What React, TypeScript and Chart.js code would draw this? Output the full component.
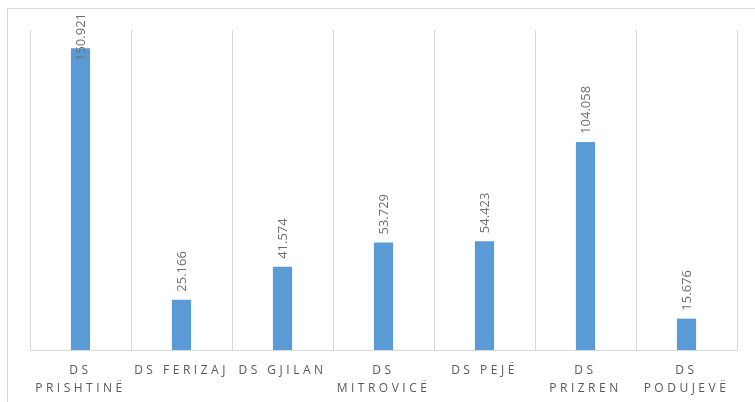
import React, { useEffect, useRef } from "react";
import { Chart, registerables } from "chart.js";

Chart.register(...registerables);

const categories: string[][] = [
  ["DS", "PRISHTINË"],
  ["DS FERIZAJ"],
  ["DS GJILAN"],
  ["DS", "MITROVICË"],
  ["DS PEJË"],
  ["DS", "PRIZREN"],
  ["DS", "PODUJEVË"],
];
const values: number[] = [150.921, 25.166, 41.574, 53.729, 54.423, 104.058, 15.676];
const valueLabels: string[] = ["150.921", "25.166", "41.574", "53.729", "54.423", "104.058", "15.676"];
const yMax = 160;

const CANVAS_W = 752;
const CANVAS_H = 400;

const letterSpacingPlugin = {
  id: "letterSpacing",
  beforeDraw(chart: any) {
    (chart.ctx as any).letterSpacing = "3.5px";
  },
  beforeDatasetsDraw(chart: any) {
    (chart.ctx as any).letterSpacing = "0px";
  },
  afterDraw(chart: any) {
    (chart.ctx as any).letterSpacing = "0px";
  },
};

const valueLabelPlugin = {
  id: "valueLabels",
  afterDatasetsDraw(chart: any) {
    const ctx = chart.ctx;
    const meta = chart.getDatasetMeta(0);
    ctx.save();
    (ctx as any).letterSpacing = "0px";
    ctx.font = '13px "Open Sans"';
    ctx.fillStyle = "#6f6f6f";
    ctx.textAlign = "left";
    ctx.textBaseline = "middle";
    meta.data.forEach((bar: any, i: number) => {
      const text = valueLabels[i];
      const w = ctx.measureText(text).width;
      let start = bar.y - 8;
      const minTop = 4;
      if (start - w < minTop) start = minTop + w;
      ctx.save();
      ctx.translate(bar.x + 1, start);
      ctx.rotate(-Math.PI / 2);
      ctx.fillText(text, 0, 0);
      ctx.restore();
    });
    ctx.restore();
  },
};

export default function App() {
  const ref = useRef<HTMLCanvasElement | null>(null);
  useEffect(() => {
    if (!ref.current) return;
    const chart = new Chart(ref.current, {
      type: "bar",
      data: {
        labels: categories,
        datasets: [
          {
            data: values,
            backgroundColor: "#5B9BD5",
            borderWidth: 0,
            categoryPercentage: 0.19,
            barPercentage: 1,
          },
        ],
      },
      options: {
        animation: false,
        responsive: false,
        maintainAspectRatio: false,
        layout: { padding: { left: 22, right: CANVAS_W - 729, top: 21, bottom: 0 } },
        plugins: { legend: { display: false }, tooltip: { enabled: false } },
        scales: {
          x: {
            grid: { color: "#d9d9d9", lineWidth: 1, drawTicks: false, offset: true },
            border: { color: "#d9d9d9" },
            ticks: {
              color: "#595959",
              font: { family: '"Open Sans"', size: 12, lineHeight: 1.5 },
              padding: 12,
              autoSkip: false,
              maxRotation: 0,
              minRotation: 0,
            },
            afterFit: (scale: any) => {
              scale.height = CANVAS_H - 341;
            },
          },
          y: {
            display: false,
            min: 0,
            max: yMax,
          },
        },
      },
      plugins: [letterSpacingPlugin, valueLabelPlugin],
    });
    return () => chart.destroy();
  }, []);
  return (
    <div
      style={{
        position: "fixed",
        left: 7,
        top: 8,
        width: CANVAS_W,
        height: CANVAS_H,
        border: "1px solid #d9d9d9",
        background: "#fff",
      }}
    >
      <canvas ref={ref} width={CANVAS_W} height={CANVAS_H} style={{ display: "block" }} />
    </div>
  );
}
